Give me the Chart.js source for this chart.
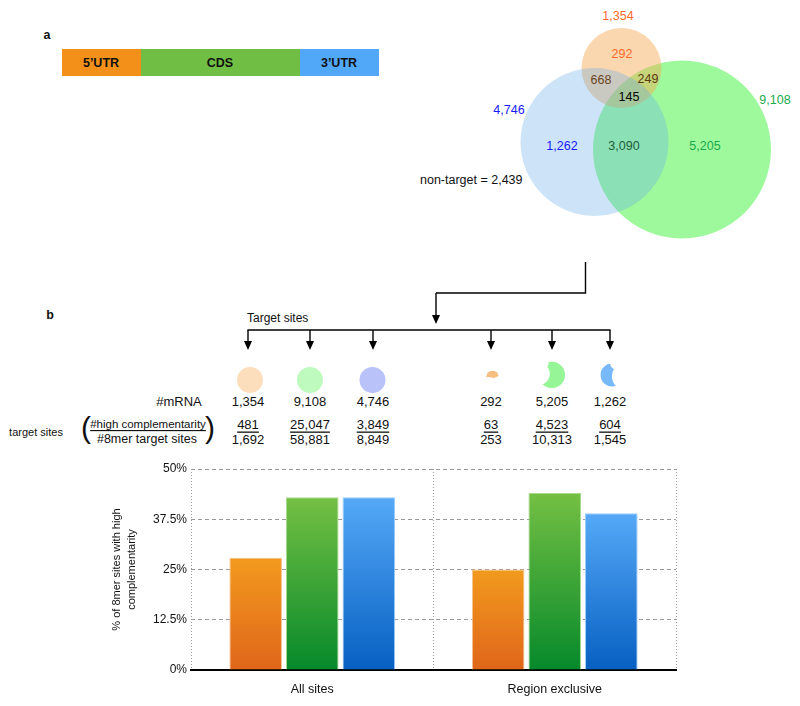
<!DOCTYPE html>
<html>
<head>
<meta charset="utf-8">
<script src="https://cdn.jsdelivr.net/npm/chart.js@4.4.0/dist/chart.umd.min.js"></script>
<style>
  body { margin: 0; background: #fff; font-family: "Liberation Sans", Arial, sans-serif; }
  #wrap { position: relative; width: 800px; height: 706px; overflow: hidden; }
  #fig { position: absolute; left: 0; top: 0; }
  #box { position: absolute; left: 100px; top: 455px; width: 590px; height: 251px; }
</style>
</head>
<body>
<div id="wrap">
  <svg id="fig" width="800" height="706"></svg>
  <div id="box"><canvas id="chart"></canvas></div>
</div>
<script>
// --- datos del gráfico de barras ---
const categorias = ['All sites', 'Region exclusive'];
const regiones = ['5\u2019UTR', 'CDS', '3\u2019UTR'];
const pctUTR5 = [27.9, 25.0];
const pctCDS = [43.0, 44.0];
const pctUTR3 = [43.0, 39.0];
const yTicks = [0, 12.5, 25, 37.5, 50];
const yTitulo = ['% of 8mer sites with high', 'complementarity'];

// --- datos del diagrama de Venn y de la tabla ---
const vennTotales = ['1,354', '4,746', '9,108'];       // 5'UTR, CDS, 3'UTR
const vennRegiones = ['292', '668', '249', '145', '1,262', '3,090', '5,205'];
const noTarget = 'non-target = 2,439';
const numMRNA = ['1,354', '9,108', '4,746', '292', '5,205', '1,262'];
const sitiosAlta = ['481', '25,047', '3,849', '63', '4,523', '604'];
const sitios8mer = ['1,692', '58,881', '8,849', '253', '10,313', '1,545'];

const FONT = '"Liberation Sans", Arial, sans-serif';
const NS = 'http://www.w3.org/2000/svg';
const svg = document.getElementById('fig');

function el(tag, attrs, parent, text) {
  const e = document.createElementNS(NS, tag);
  for (const k in attrs) e.setAttribute(k, attrs[k]);
  if (text !== undefined) e.textContent = text;
  (parent || svg).appendChild(e);
  return e;
}
function txt(x, y, s, extra, parent) {
  return el('text', Object.assign({
    x, y, 'text-anchor': 'middle', 'dominant-baseline': 'central',
    'font-size': 13, 'font-family': FONT, fill: '#111'
  }, extra || {}), parent, s);
}
function flecha(x, y1, tip) {
  el('line', { x1: x, y1: y1, x2: x, y2: tip - 8, stroke: '#000', 'stroke-width': 1.4 });
  el('polygon', { points: `${x - 4},${tip - 9} ${x + 4},${tip - 9} ${x},${tip}`, fill: '#000' });
}

// panel a: barra del mRNA
txt(47, 35, 'a', { 'font-weight': 'bold', 'font-size': 12.5 });
el('rect', { x: 62, y: 49, width: 79, height: 27, fill: '#f39019' });
el('rect', { x: 141, y: 49, width: 159, height: 27, fill: '#70bf44' });
el('rect', { x: 300, y: 49, width: 79, height: 27, fill: '#52a8f8' });
txt(101, 63, regiones[0], { 'font-weight': 'bold', 'font-size': 12.5 });
txt(220, 63, regiones[1], { 'font-weight': 'bold', 'font-size': 12.5 });
txt(339, 63, regiones[2], { 'font-weight': 'bold', 'font-size': 12.5 });

// Venn
const cOr = [621.5, 68, 40], cAz = [594.5, 142, 74], cVe = [682, 149.5, 89];
el('circle', { cx: cVe[0], cy: cVe[1], r: cVe[2], fill: 'rgb(158,249,156)' });
el('circle', { cx: cOr[0], cy: cOr[1], r: cOr[2], fill: 'rgb(245,170,85)', 'fill-opacity': 0.47 });
el('circle', { cx: cAz[0], cy: cAz[1], r: cAz[2], fill: 'rgb(99,170,233)', 'fill-opacity': 0.32 });
txt(618, 16, vennTotales[0], { fill: '#ff6a2a', 'font-size': 12.5 });
txt(509, 110, vennTotales[1], { fill: '#1a1aff', 'font-size': 12.5 });
txt(775, 100, vennTotales[2], { fill: '#1aaa4a', 'font-size': 12.5 });
txt(622, 54, vennRegiones[0], { fill: '#ff6a2a', 'font-size': 12.5 });
txt(601, 80, vennRegiones[1], { fill: '#6b4423', 'font-size': 12.5 });
txt(648, 79, vennRegiones[2], { fill: '#5a3a10', 'font-size': 12.5 });
txt(629, 97, vennRegiones[3], { fill: '#000', 'font-size': 12.5 });
txt(562, 146, vennRegiones[4], { fill: '#1a1aff', 'font-size': 12.5 });
txt(624, 146, vennRegiones[5], { fill: '#1e5e3a', 'font-size': 12.5 });
txt(705, 146, vennRegiones[6], { fill: '#1aaa4a', 'font-size': 12.5 });
txt(420, 180, noTarget, { 'text-anchor': 'start', 'font-size': 12.5 });

// conectores
el('polyline', { points: '585.5,262 585.5,293 436,293', fill: 'none', stroke: '#000', 'stroke-width': 1.4 });
flecha(436, 293, 324);
txt(50, 315, 'b', { 'font-weight': 'bold', 'font-size': 12.5 });
txt(247, 318, 'Target sites', { 'text-anchor': 'start', 'font-size': 12 });
el('line', { x1: 247.5, y1: 330, x2: 610.5, y2: 330, stroke: '#000', 'stroke-width': 1.4 });
const colX = [248, 310, 373, 491, 552, 610];
colX.forEach(x => flecha(x, 330, 350));

// iconos
el('circle', { cx: 250, cy: 380, r: 13, fill: 'rgb(253,222,188)' });
el('circle', { cx: 310, cy: 380, r: 13, fill: 'rgb(190,250,190)' });
el('circle', { cx: 372.5, cy: 380, r: 13, fill: 'rgb(185,195,250)' });
const defs = el('defs', {});
function mascara(id, keep, cut) {
  const m = el('mask', { id, maskUnits: 'userSpaceOnUse', x: 400, y: 0, width: 400, height: 300 }, defs);
  el('circle', { cx: keep[0], cy: keep[1], r: keep[2], fill: '#fff' }, m);
  cut.forEach(c => el('circle', { cx: c[0], cy: c[1], r: c[2], fill: '#000' }, m));
}
mascara('mOr', cOr, [cAz, cVe]);
mascara('mVe', cVe, [cAz, cOr]);
mascara('mAz', cAz, [cVe, cOr]);
function icono(tx, ty, s, cx, cy, c, color, mask) {
  const g = el('g', { transform: `translate(${tx},${ty}) scale(${s}) translate(${-cx},${-cy})` });
  el('circle', { cx: c[0], cy: c[1], r: c[2], fill: color, mask: `url(#${mask})` }, g);
}
icono(492.5, 374, 0.16, 621.5, 50, cOr, 'rgb(247,190,130)', 'mOr');
icono(553, 375, 0.15, 690, 150, cVe, 'rgb(150,245,150)', 'mVe');
icono(607, 375, 0.16, 562, 142, cAz, 'rgb(120,185,250)', 'mAz');

// filas de números
txt(179, 401, '#mRNA');
numMRNA.forEach((n, i) => txt(colX[i], 401, n));
txt(36, 432, 'target sites', { 'font-size': 11 });
txt(86, 427, '(', { 'font-size': 30, 'font-weight': 'lighter' });
txt(210, 427, ')', { 'font-size': 30, 'font-weight': 'lighter' });
txt(148, 424, '#high complementarity', { 'font-size': 11.5, style: 'text-decoration: underline' });
txt(147, 439, '#8mer target sites', { 'font-size': 12.5 });
sitiosAlta.forEach((n, i) => txt(colX[i], 424, n, { style: 'text-decoration: underline' }));
sitios8mer.forEach((n, i) => txt(colX[i], 439, n));

// --- gráfico de barras ---
function degradado(arriba, abajo) {
  return c => {
    const chart = c.chart;
    const area = chart.chartArea;
    if (!area || !chart.scales.y || c.raw === undefined) return arriba;
    const yTop = chart.scales.y.getPixelForValue(c.raw);
    const g = chart.ctx.createLinearGradient(0, yTop, 0, area.bottom);
    g.addColorStop(0, arriba);
    g.addColorStop(1, abajo);
    return g;
  };
}

new Chart(document.getElementById('chart'), {
  type: 'bar',
  data: {
    labels: categorias,
    datasets: [
      { label: regiones[0], data: pctUTR5, backgroundColor: degradado('#f29a1e', '#e0661a'), borderColor: '#f7c491', borderWidth: 1 },
      { label: regiones[1], data: pctCDS, backgroundColor: degradado('#74c043', '#06892b'), borderColor: '#a6d98a', borderWidth: 1 },
      { label: regiones[2], data: pctUTR3, backgroundColor: degradado('#55a9f7', '#0760c2'), borderColor: '#9ccaf8', borderWidth: 1 }
    ]
  },
  options: {
    responsive: true,
    maintainAspectRatio: false,
    animation: false,
    categoryPercentage: 0.70,
    barPercentage: 0.93,
    layout: { padding: { top: 14, right: 14, left: 0, bottom: 0 } },
    plugins: { legend: { display: false }, tooltip: { enabled: false } },
    scales: {
      x: {
        grid: { color: '#9a9a9a', drawTicks: false, offset: true },
        border: { display: true, color: '#000', width: 2, dash: [1, 2] },
        ticks: { color: '#111', font: { size: 12.5, family: FONT }, padding: 12 },
        afterFit: s => { s.height = 36; }
      },
      y: {
        min: 0,
        max: 50,
        afterBuildTicks: s => { s.ticks = yTicks.map(v => ({ value: v })); },
        grid: { color: '#9a9a9a', drawTicks: false },
        border: { display: false, dash: [4, 3] },
        ticks: { color: '#111', font: { size: 12, family: FONT }, padding: 4, callback: v => v + '%' },
        title: {
          display: true, text: yTitulo, color: '#111',
          font: { size: 11, family: FONT, lineHeight: 1.36 },
          padding: { top: 9.5, bottom: 0 }
        },
        afterFit: s => { s.width = 91; }
      }
    }
  }
});
</script>
</body>
</html>
